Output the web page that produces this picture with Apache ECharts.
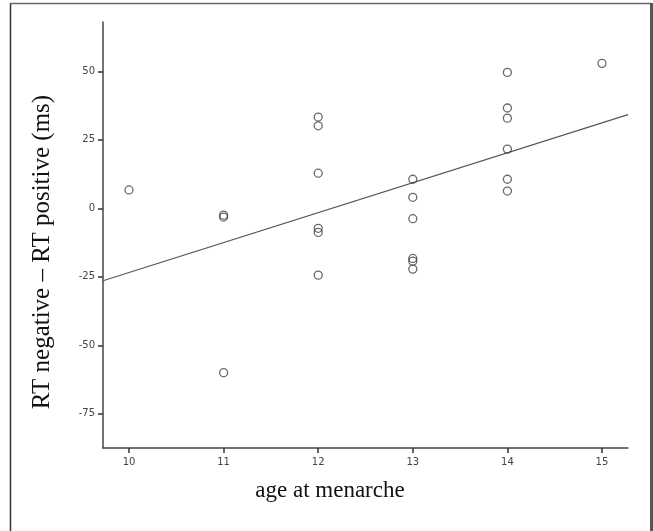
<!DOCTYPE html>
<html>
<head>
<meta charset="utf-8">
<script src="https://cdn.jsdelivr.net/npm/echarts@6/dist/echarts.min.js"></script>
<style>
html,body{margin:0;padding:0;background:#fff;}
#chart{width:653px;height:531px;}
</style>
</head>
<body>
<div id="chart"></div>
<script>
// Data
const ageAtMenarche = [10, 11, 11, 11, 12, 12, 12, 12, 12, 12, 13, 13, 13, 13, 13, 13, 14, 14, 14, 14, 14, 14, 15];
const rtDifference  = [6.7, -2.5, -3.2, -60.0, 33.3, 30.1, 12.8, -7.3, -8.8, -24.4, 10.6, 4.0, -3.8, -18.3, -19.3, -22.2, 49.6, 36.6, 32.9, 21.6, 10.6, 6.3, 52.9];
const xTickValues = [10, 11, 12, 13, 14, 15];
const yTickValues = [-75, -50, -25, 0, 25, 50];
const xAxisRange = [9.725, 15.275];
const yAxisRange = [-87.5, 68];
const xTitle = 'age at menarche';
const yTitle = 'RT negative \u2013 RT positive (ms)';

// Ordinary least squares fit line
const n = ageAtMenarche.length;
const mx = ageAtMenarche.reduce((a, b) => a + b, 0) / n;
const my = rtDifference.reduce((a, b) => a + b, 0) / n;
let sxy = 0, sxx = 0;
for (let i = 0; i < n; i++) {
  sxy += (ageAtMenarche[i] - mx) * (rtDifference[i] - my);
  sxx += (ageAtMenarche[i] - mx) * (ageAtMenarche[i] - mx);
}
const slope = sxy / sxx;
const intercept = my - slope * mx;
const fitLine = xAxisRange.map(x => [x, intercept + slope * x]);

const points = ageAtMenarche.map((x, i) => [x, rtDifference[i]]);

const chart = echarts.init(document.getElementById('chart'), null, {renderer: 'canvas'});
const tickFont = {fontFamily: 'DejaVu Sans', fontSize: 10, color: '#444'};
chart.setOption({
  animation: false,
  backgroundColor: '#fff',
  grid: {left: 103, right: 25, top: 22, bottom: 83, containLabel: false},
  graphic: [
    {type: 'line', shape: {x1: 10.5, y1: 3, x2: 10.5, y2: 531}, style: {stroke: '#333', lineWidth: 1.5}},
    {type: 'line', shape: {x1: 10, y1: 3.5, x2: 651, y2: 3.5}, style: {stroke: '#666', lineWidth: 1.5}},
    {type: 'line', shape: {x1: 651.5, y1: 3, x2: 651.5, y2: 531}, style: {stroke: '#555', lineWidth: 3}},
    {type: 'text', x: 42, y: 252, rotation: Math.PI / 2,
     style: {text: yTitle, font: '25px "Liberation Serif"', fill: '#111', align: 'center', verticalAlign: 'middle'}},
    {type: 'text', x: 330, y: 491,
     style: {text: xTitle, font: '23px "Liberation Serif"', fill: '#111', align: 'center', verticalAlign: 'middle'}}
  ],
  xAxis: {
    type: 'value', min: xAxisRange[0], max: xAxisRange[1],
    splitLine: {show: false},
    axisLine: {show: true, onZero: false, lineStyle: {color: '#444', width: 1.5}},
    axisTick: {show: true, customValues: xTickValues, length: 5, lineStyle: {color: '#333', width: 1.5}},
    axisLabel: Object.assign({customValues: xTickValues, margin: 9}, tickFont)
  },
  yAxis: {
    type: 'value', min: yAxisRange[0], max: yAxisRange[1],
    splitLine: {show: false},
    axisLine: {show: true, onZero: false, lineStyle: {color: '#444', width: 1.5}},
    axisTick: {show: true, customValues: yTickValues, length: 5, lineStyle: {color: '#333', width: 1.5}},
    axisLabel: Object.assign({customValues: yTickValues, margin: 8}, tickFont)
  },
  series: [
    {
      type: 'line', data: fitLine, symbol: 'none', silent: true,
      lineStyle: {color: '#555', width: 1.1}, z: 2
    },
    {
      type: 'scatter', data: points, symbol: 'circle', symbolSize: 8,
      itemStyle: {color: 'rgba(255,255,255,0)', borderColor: '#444', borderWidth: 1.3}, z: 3
    }
  ]
});
</script>
</body>
</html>
